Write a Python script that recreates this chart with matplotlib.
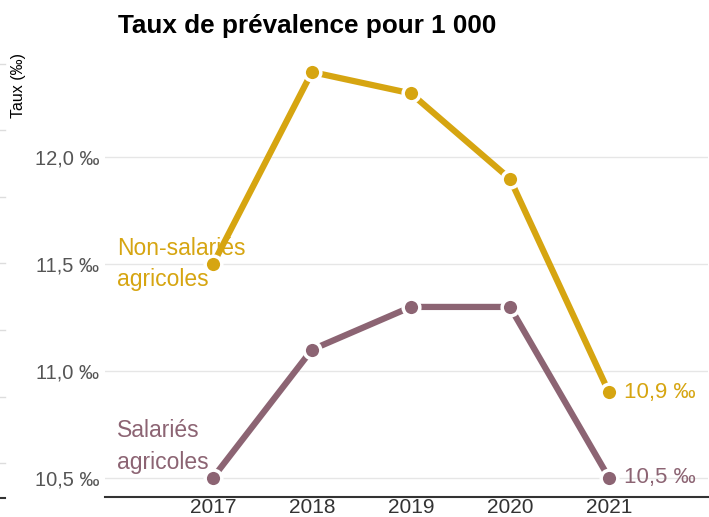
import matplotlib.pyplot as plt
from matplotlib.lines import Line2D

plt.rcParams['font.family'] = ['Liberation Sans', 'DejaVu Sans']

# data
years = [2017, 2018, 2019, 2020, 2021]
non_salaries = [11.5, 12.4, 12.3, 11.9, 10.9]
salaries = [10.5, 11.1, 11.3, 11.3, 10.5]
y_ticks = [10.5, 11.0, 11.5, 12.0]

gold = '#D6A511'
mauve = '#8C6473'


def fmt(v):
    """French decimal comma with per-mille sign"""
    return '{:.1f}'.format(v).replace('.', ',') + ' \u2030'


fig = plt.figure(figsize=(7.09, 5.17), dpi=100)
ax = fig.add_axes([105 / 709, 20 / 517, 603 / 709, 457 / 517])

for vals, col in [(non_salaries, gold), (salaries, mauve)]:
    ax.plot(years, vals, color=col, lw=4.5, solid_capstyle='butt', zorder=3)
    ax.plot(years, vals, 'o', color=col, ms=12, mec='white', mew=2.5,
            zorder=4)
    # value at the last year
    ax.annotate(fmt(vals[-1]), (years[-1], vals[-1]), xytext=(11, 0),
                textcoords='offset points', ha='left', va='center',
                color=col, fontsize=16)

# series labels on the left
ax.annotate('Non-salariés\nagricoles', (years[0], non_salaries[0]),
            xytext=(-69, 0), textcoords='offset points', ha='left',
            va='center', color=gold, fontsize=16.5, linespacing=1.45)
ax.annotate('Salariés\nagricoles', (years[0], salaries[0]),
            xytext=(-69, 22.5), textcoords='offset points', ha='left',
            va='center', color=mauve, fontsize=16.5, linespacing=1.45)

ax.set_xlim(2015.91, 2022.0)
ax.set_ylim(10.41, 12.55)
ax.set_xticks(years)
ax.set_xticklabels([str(y) for y in years])
ax.set_yticks(y_ticks)
ax.set_yticklabels([fmt(v) for v in y_ticks])
ax.tick_params(axis='x', length=0, pad=1, labelsize=15, labelcolor='#333333')
ax.tick_params(axis='y', length=0, pad=4, labelsize=14.5,
               labelcolor='#555555')
ax.grid(axis='y', color='#e6e6e6', lw=1)
ax.set_axisbelow(True)
for s in ['top', 'right', 'left']:
    ax.spines[s].set_visible(False)
ax.spines['bottom'].set_color('#333333')
ax.spines['bottom'].set_linewidth(1.5)

fig.text(118 / 709, 1 - 33 / 517, 'Taux de prévalence pour 1 000',
         fontsize=18.8, fontweight='bold', va='baseline', ha='left')
fig.text(18 / 709, 1 - 85 / 517, 'Taux (\u2030)', rotation=90,
         fontsize=11.5, ha='center', va='center')

# faint stubs on the left edge of the picture
for yp in [64, 130, 197, 263, 330, 397, 463]:
    fig.add_artist(Line2D([0, 5 / 709], [1 - yp / 517] * 2,
                          transform=fig.transFigure, color='#dddddd', lw=1))
fig.add_artist(Line2D([0, 5 / 709], [1 - 498 / 517] * 2,
                      transform=fig.transFigure, color='#333333', lw=1.5))

plt.savefig('out.png', dpi=100)
